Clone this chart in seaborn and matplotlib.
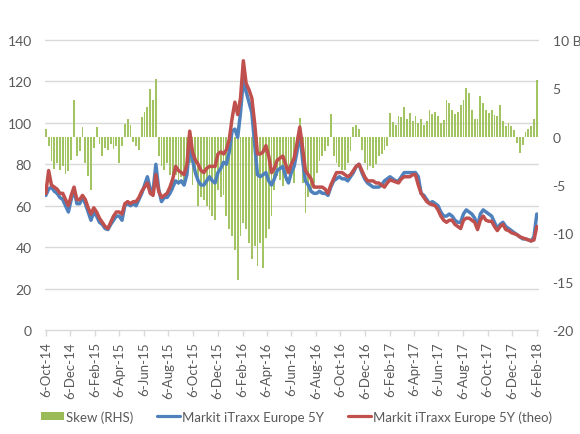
import numpy as np
import pandas as pd
import matplotlib
matplotlib.use("Agg")
import matplotlib.pyplot as plt
import seaborn as sns
from matplotlib.patches import Patch
from matplotlib.lines import Line2D

# ---------------- data (weekly readings) ----------------
start_date = "2014-10-06"

itraxx = [65, 68, 69, 67, 66, 64, 63, 60, 57, 63,
          68, 61, 61, 64, 61, 57, 53, 57, 55, 52,
          51, 49, 48.5, 51, 53, 55, 55, 53, 60, 61,
          60, 61, 60, 63, 66, 70, 74, 68, 67, 80,
          68, 62, 64, 64, 66, 69, 72, 71, 72, 70,
          75, 90, 82, 76, 72, 70, 70, 72, 74, 72,
          71, 76, 78, 81, 80, 86, 96, 97, 93, 105,
          121, 115, 110, 105, 90, 75, 74, 75, 76, 72,
          70, 73, 77, 78, 79, 74, 71, 76, 79, 86,
          96, 82, 72, 70, 67, 66, 66, 67, 66, 66,
          65, 69, 72, 73, 74, 73, 73, 72, 74, 76,
          79, 80, 76, 73, 71, 70, 69, 69, 69, 70,
          72, 73, 74, 73, 72, 72, 74, 76, 76, 76,
          76, 76, 74, 66, 65, 63, 61, 62, 61, 60,
          57, 55, 55, 56, 55, 53, 52, 52, 56, 58,
          57, 56, 54, 50, 56, 58, 57, 56, 55, 52,
          49, 51, 52, 50, 49, 48, 47, 46, 45, 44,
          44, 43.5, 43, 45, 56]

itraxx_theo = [66, 77, 70, 69, 68, 66, 66, 63, 60, 65,
               69, 63, 63, 65, 63, 59, 56, 59, 57, 54,
               52, 50, 49, 52, 55, 57, 57, 56, 61, 62,
               61, 62, 62, 64, 67, 69, 71, 66, 65, 75,
               67, 64, 65, 66, 69, 73, 79, 77, 76, 75,
               80, 96, 86, 82, 80, 77, 76, 78, 79, 79,
               79, 85, 86, 85, 87, 92, 102, 110, 104, 112,
               130, 119, 116, 112, 100, 85, 85, 86, 89, 84,
               76, 78, 82, 83, 84, 80, 76, 80, 83, 90,
               98, 88, 77, 75, 73, 69, 69, 69, 69, 68,
               66, 70, 73, 76, 76, 76, 75, 74, 75, 77,
               79, 80, 77, 74, 72, 72, 72, 71, 71, 70,
               69, 71, 72.5, 72, 71.5, 71, 73, 74, 74, 74,
               75, 75, 70, 66, 64, 62, 61, 60.5, 60, 58,
               55, 53, 52, 53, 53, 51, 50, 49, 53, 54,
               54, 53, 52, 48.5, 53, 55, 53, 52.5, 52.5, 50,
               48, 50, 51, 48.5, 48, 47, 46.5, 46, 45, 44.5,
               44, 43.5, 43, 43.5, 50]

skew = [0.8, -1.0, -2.5, -3.3, -2.7, -3.4, -3.0, -3.9, -3.5, -2.4,
        3.8, -2.0, -1.5, 1.0, -2.7, -4.1, -5.5, -1.2, 1.0, -0.8,
        -2.0, -1.2, -1.4, -0.8, -1.3, -1.0, -2.7, -1.0, 1.3, 1.8,
        1.2, -0.6, -1.0, -1.4, 2.0, 2.6, 3.1, 4.9, 3.8, 6.0,
        -2.0, -3.0, -3.4, -2.7, -4.0, -5.5, -4.0, -5.0, -4.2, -5.0,
        -3.5, -2.7, -5.0, -4.0, -7.2, -6.2, -6.5, -7.2, -7.6, -8.2,
        -8.6, -5.5, -6.2, -6.0, -8.2, -9.6, -10.3, -11.7, -14.8, -10.3,
        -8.9, -9.6, -11.0, -12.7, -11.3, -13.4, -11.0, -13.6, -10.5, -9.6,
        -8.2, -5.5, -4.1, -4.5, -5.1, -4.6, -3.8, -3.4, -4.8, -2.0,
        1.9, -4.8, -7.9, -6.2, -5.8, -4.8, -3.8, -2.5, -2.0, -1.5,
        -1.0, 2.3, -2.0, -2.7, -3.1, -3.4, -3.4, -2.7, -1.5, 1.0,
        1.2, 0.8, -1.4, -2.7, -3.4, -3.0, -3.2, -2.8, -2.0, -1.8,
        -1.4, -1.0, 2.4, 1.5, 1.2, 2.1, 2.0, 3.1, 1.8, 2.4,
        1.6, 2.1, 1.4, 1.8, 1.2, 1.6, 2.8, 2.3, 2.6, 2.1,
        1.4, 1.7, 3.8, 3.5, 2.8, 2.3, 2.6, 3.3, 3.8, 5.0,
        4.5, 2.8, 1.8, 1.8, 4.2, 3.5, 2.8, 2.4, 2.8, 2.2,
        2.1, 3.3, 1.6, 1.1, 1.4, 1.1, 0.7, -0.7, -1.7, -0.9,
        0.5, 0.8, 1.1, 1.8, 5.9]

tick_labels = ["6-Oct-14", "6-Dec-14", "6-Feb-15", "6-Apr-15", "6-Jun-15",
               "6-Aug-15", "6-Oct-15", "6-Dec-15", "6-Feb-16", "6-Apr-16",
               "6-Jun-16", "6-Aug-16", "6-Oct-16", "6-Dec-16", "6-Feb-17",
               "6-Apr-17", "6-Jun-17", "6-Aug-17", "6-Oct-17", "6-Dec-17",
               "6-Feb-18"]
left_ticks = [0, 20, 40, 60, 80, 100, 120, 140]
right_ticks = [-20, -15, -10, -5, 0, 5, 10]
right_labels = ["-20", "-15", "-10", "-5", "0", "5", "10 B"]

series_names = ["Skew (RHS)", "Markit iTraxx Europe 5Y", "Markit iTraxx Europe 5Y (theo)"]

# ---------------- build frame ----------------
dates = pd.date_range(start_date, periods=len(itraxx), freq="7D")
df = pd.DataFrame({"date": dates, "itraxx": itraxx,
                   "theo": itraxx_theo, "skew": skew})

GREEN = "#9BBB59"
BLUE = "#4F81BD"
RED = "#C0504D"
TXT = "#595959"
GRID = "#D9D9D9"

sns.set_theme(style="white")
plt.rcParams["font.family"] = ["Lato", "DejaVu Sans"]

fig = plt.figure(figsize=(5.8, 4.35), dpi=100)
ax = fig.add_axes([0.0776, 0.239, 0.85, 0.6667])
ax2 = ax.twinx()

# gridlines (left-axis levels) drawn on the bar axis, behind bars
for v in left_ticks[1:]:
    ax2.axhline(-20 + v * 30 / 140, color=GRID, linewidth=1.0, zorder=0,
                clip_on=False)

# bars on right axis
ax2.bar(df["date"], df["skew"], width=4.5, color="#A3C462", edgecolor="none",
        linewidth=0, zorder=2)
ax2.set_ylim(-20, 10)
ax2.set_yticks(right_ticks)
ax2.set_yticklabels(right_labels)

# lines on left axis
ax.set_zorder(ax2.get_zorder() + 1)
ax.patch.set_visible(False)
sns.lineplot(data=df, x="date", y="itraxx", ax=ax, color=BLUE, linewidth=2.5)
sns.lineplot(data=df, x="date", y="theo", ax=ax, color=RED, linewidth=2.5)

ax.set_ylim(0, 140)
ax.set_yticks(left_ticks)
tick_pos = pd.to_datetime(tick_labels, format="%d-%b-%y")
ax.set_xticks(tick_pos)
ax.set_xticklabels(tick_labels, rotation=90)
ax.set_xlim(pd.Timestamp("2014-10-04"), pd.Timestamp("2018-02-08"))
ax.set_xlabel("")
ax.set_ylabel("")

for a in (ax, ax2):
    for s in a.spines.values():
        s.set_visible(False)
ax.spines["bottom"].set_visible(True)
ax.spines["bottom"].set_color(GRID)
ax.spines["bottom"].set_linewidth(1.0)

ax.tick_params(axis="x", colors=TXT, labelsize=9.5, length=4, width=1.0,
               color=GRID, pad=4, bottom=True)
ax.tick_params(axis="y", colors=TXT, labelsize=10, length=0, pad=9.5)
ax2.tick_params(axis="y", colors=TXT, labelsize=10, length=0, pad=10.5)
ax.grid(False)
ax2.grid(False)

handles = [Patch(facecolor=GREEN, edgecolor="none"),
           Line2D([0], [0], color=BLUE, linewidth=2.3),
           Line2D([0], [0], color=RED, linewidth=2.3)]
leg = fig.legend(handles, series_names, loc="center", ncol=3,
                 bbox_to_anchor=(0.511, 0.04), frameon=False,
                 handlelength=1.75, handleheight=0.6, handletextpad=0.15,
                 columnspacing=1.8, fontsize=9.5)
for t in leg.get_texts():
    t.set_color(TXT)

fig.savefig("out.png", dpi=100)
